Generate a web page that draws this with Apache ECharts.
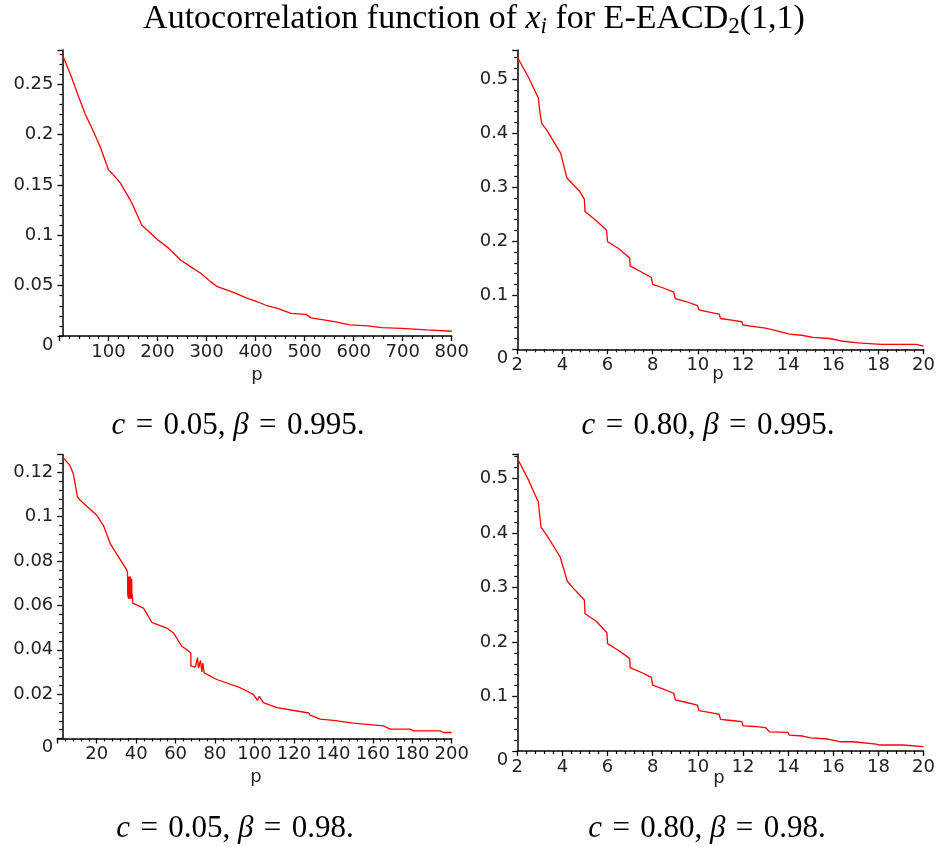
<!DOCTYPE html>
<html>
<head>
<meta charset="utf-8">
<script src="https://cdn.jsdelivr.net/npm/echarts@6/dist/echarts.min.js"></script>
<style>
html,body{margin:0;padding:0;background:#fff;}
#chart{width:938px;height:847px;}
</style>
</head>
<body>
<div id="chart"></div>
<script>
// ---- data ----
// Panel 1: c = 0.05, beta = 0.995
const p1X = [6, 21.5, 38.6, 52, 69.3, 83, 100, 110, 124, 144.5, 168, 182, 199, 223, 247, 267, 288, 308, 322, 356, 383.6, 404, 424.6, 445, 472, 503, 513, 561, 592, 629, 657, 697, 700, 749, 752, 800];
const p1Y = [0.279, 0.261, 0.238, 0.221, 0.203, 0.188, 0.165, 0.160, 0.152, 0.135, 0.110, 0.1037, 0.096, 0.087, 0.0755, 0.0689, 0.0623, 0.054, 0.049, 0.043, 0.0373, 0.034, 0.0298, 0.0275, 0.0225, 0.0215, 0.018, 0.0142, 0.011, 0.010, 0.0083, 0.0076, 0.0068, 0.0060, 0.0047, 0.0047];

// Panel 2: c = 0.80, beta = 0.995
const p2X = [2, 2.5, 2.93, 3.0, 3.08, 3.3, 3.92, 4.2, 4.77, 4.97, 5.0, 5.5, 5.95, 6.0, 6.47, 6.98, 7.0, 7.5, 7.94, 8.0, 8.5, 8.93, 9.0, 9.5, 9.98, 10.05, 10.5, 10.95, 11.0, 11.5, 11.95, 12.0, 12.5, 13.0, 13.5, 14.06, 14.6, 15.1, 15.83, 16.35, 17.09, 18.12, 19.67, 20];
const p2Y = [0.541, 0.503, 0.465, 0.44, 0.418, 0.406, 0.363, 0.317, 0.292, 0.278, 0.255, 0.238, 0.221, 0.199, 0.187, 0.169, 0.154, 0.143, 0.133, 0.120, 0.113, 0.106, 0.094, 0.088, 0.081, 0.073, 0.069, 0.065, 0.057, 0.054, 0.051, 0.045, 0.042, 0.039, 0.034, 0.028, 0.026, 0.022, 0.020, 0.0154, 0.012, 0.009, 0.009, 0.006];

// Panel 3: c = 0.05, beta = 0.98
const p3X = [2.6, 6.5, 8.2, 10.2, 11.5, 20, 23.4, 26.8, 30.2, 35.2, 35.6,
  35.75, 35.9, 36.05, 36.2, 36.35, 36.5, 36.65, 36.8, 36.95, 37.1, 37.25, 37.4, 37.55, 37.7, 37.85, 38.0,
  38.3, 43.7, 47.9, 55.5, 58.9, 63.1, 66.5, 67.7, 67.8, 70.0, 70.7, 71.1, 71.6, 72.1, 72.6, 73.0, 73.3, 73.8, 74.5, 75, 80.9, 92.7, 99.4, 101.5, 102.5, 104.5, 111.3, 121.5, 127.5, 128.2, 133.3, 140, 150.2, 157, 165.4, 168.8, 179, 180.6, 194, 195.9, 200];
const p3Y = [0.127, 0.123, 0.119, 0.109, 0.1075, 0.1007, 0.096, 0.088, 0.083, 0.076, 0.075,
  0.064, 0.073, 0.063, 0.073, 0.063, 0.073, 0.063, 0.072, 0.063, 0.073, 0.063, 0.072, 0.063, 0.072, 0.064, 0.065,
  0.061, 0.0588, 0.0524, 0.0498, 0.0476, 0.0416, 0.0395, 0.0386, 0.0326, 0.0322, 0.0319, 0.0364, 0.0318, 0.0311, 0.0352, 0.0349, 0.0300, 0.0340, 0.0296, 0.0296, 0.0266, 0.0229, 0.0199, 0.0172, 0.0190, 0.0162, 0.0139, 0.0124, 0.0115, 0.0105, 0.0087, 0.0082, 0.0069, 0.0064, 0.0057, 0.0042, 0.0042, 0.0034, 0.0034, 0.0027, 0.0027];

// Panel 4: c = 0.80, beta = 0.98
const p4X = [2, 2.5, 2.93, 3.05, 3.3, 3.9, 4.22, 4.5, 4.97, 5.0, 5.5, 5.97, 6.0, 6.47, 6.98, 7.0, 7.5, 7.94, 8.0, 8.5, 8.93, 9.0, 9.5, 9.98, 10.05, 10.5, 10.95, 11.0, 11.5, 11.95, 12.0, 12.5, 13.0, 13.18, 14.0, 14.05, 14.65, 15.0, 15.76, 16.28, 16.87, 16.94, 17.9, 18.05, 19.08, 19.1, 20];
const p4Y = [0.537, 0.497, 0.457, 0.411, 0.396, 0.356, 0.311, 0.298, 0.277, 0.252, 0.238, 0.217, 0.197, 0.185, 0.170, 0.153, 0.144, 0.135, 0.121, 0.113, 0.106, 0.094, 0.089, 0.084, 0.074, 0.071, 0.067, 0.058, 0.056, 0.054, 0.046, 0.045, 0.043, 0.035, 0.034, 0.029, 0.0275, 0.024, 0.022, 0.017, 0.017, 0.014, 0.0128, 0.011, 0.011, 0.008, 0.008];

const xTicks = {p1: {min: 0, max: 800, interval: 100}, p2: {min: 2, max: 20, interval: 2}, p3: {min: 0, max: 200, interval: 20}, p4: {min: 2, max: 20, interval: 2}};
const yTicks = {p1: {min: 0, max: 0.284, interval: 0.05}, p2: {min: 0, max: 0.554, interval: 0.1}, p3: {min: 0, max: 0.128, interval: 0.02}, p4: {min: 0, max: 0.545, interval: 0.1}};

const axisName = 'p';
const EQ = '\u2004=\u2004';
const captions = ['{i|c}' + EQ + '0.05, {i|β}' + EQ + '0.995.', '{i|c}' + EQ + '0.80, {i|β}' + EQ + '0.995.', '{i|c}' + EQ + '0.05, {i|β}' + EQ + '0.98.', '{i|c}' + EQ + '0.80, {i|β}' + EQ + '0.98.'];

// ---- chart ----
const FONT = 'DejaVu Sans';
const SERIF = 'Liberation Serif';
const LBL = 18;
const zip = (xs, ys) => xs.map((x, i) => [x, ys[i]]);

const grids = [
  {left: 59.5, top: 50, width: 392.2, height: 286},
  {left: 517.3, top: 50, width: 406.7, height: 299.3},
  {left: 57.3, top: 454.6, width: 394.4, height: 283.9},
  {left: 517.3, top: 454, width: 406.7, height: 297}
];
const keys = ['p1', 'p2', 'p3', 'p4'];
const yOffsets = [-3, 0, -5, 0];
const namePos = [[257, 375], [718, 374], [256, 777], [719, 778]];
const axisLine = {show: true, onZero: false, lineStyle: {color: '#000', width: 1.5}};

const xAxes = keys.map((k, i) => ({
  type: 'value', gridIndex: i,
  min: xTicks[k].min, max: xTicks[k].max, interval: xTicks[k].interval,
  axisLine: axisLine,
  axisTick: {show: true, length: 5, lineStyle: {color: '#000', width: 1.3}},
  minorTick: {show: true, splitNumber: 5, length: 3, lineStyle: {color: '#000', width: 1.2}},
  splitLine: {show: false},
  axisLabel: {fontFamily: FONT, fontSize: LBL, color: '#222', margin: 7, showMinLabel: (k === 'p2' || k === 'p4')}
}));

const yAxes = keys.map((k, i) => ({
  type: 'value', gridIndex: i, offset: yOffsets[i],
  min: yTicks[k].min, max: yTicks[k].max, interval: yTicks[k].interval,
  axisLine: axisLine,
  axisTick: {show: true, length: 5, lineStyle: {color: '#000', width: 1.3}},
  minorTick: {show: true, splitNumber: 5, length: 3, lineStyle: {color: '#000', width: 1.2}},
  splitLine: {show: false},
  axisLabel: {
    fontFamily: FONT, fontSize: LBL, color: '#222', margin: 9, showMaxLabel: false,
    formatter: v => v === 0 ? '{z|0}' : String(+v.toFixed(4)),
    rich: {z: {fontFamily: FONT, fontSize: LBL, color: '#222', padding: [18, 0, 0, 0]}}
  }
}));

const series = [zip(p1X, p1Y), zip(p2X, p2Y), zip(p3X, p3Y), zip(p4X, p4Y)].map((d, i) => ({
  type: 'line', xAxisIndex: i, yAxisIndex: i, data: d,
  showSymbol: false, symbol: 'none', smooth: false,
  lineStyle: {color: '#ff0000', width: 1.3}, animation: false
}));

const CAP = 31;
const capPos = [[238, 410], [708, 410], [235, 813], [707, 813]];
const capRich = {i: {fontFamily: SERIF, fontStyle: 'italic', fontSize: CAP, color: '#000'}};
const titles = [{
  text: 'Autocorrelation function of {i|x}{si|i} for E-EACD{s|2}(1,1)',
  left: 474, top: 1, textAlign: 'center', padding: 0,
  textStyle: {
    fontFamily: SERIF, fontSize: 34, fontWeight: 'normal', color: '#000',
    rich: {
      i: {fontFamily: SERIF, fontStyle: 'italic', fontSize: 34, color: '#000'},
      si: {fontFamily: SERIF, fontStyle: 'italic', fontSize: 23, color: '#000', padding: [14, 0, 0, 0]},
      s: {fontFamily: SERIF, fontSize: 23, color: '#000', padding: [14, 0, 0, 0]}
    }
  }
}].concat(captions.map((c, i) => ({
  text: c, left: capPos[i][0], top: capPos[i][1], textAlign: 'center', padding: 0,
  textStyle: {fontFamily: SERIF, fontSize: CAP, fontWeight: 'normal', color: '#000', rich: capRich}
})));

const graphics = namePos.map(pos => ({
  type: 'text', x: pos[0], y: pos[1], silent: true,
  style: {text: axisName, font: LBL + 'px "' + FONT + '"', fill: '#222', textAlign: 'center', textVerticalAlign: 'middle'}
}));

const chart = echarts.init(document.getElementById('chart'), null, {renderer: 'canvas'});
chart.setOption({
  animation: false,
  backgroundColor: '#fff',
  title: titles,
  grid: grids,
  xAxis: xAxes,
  yAxis: yAxes,
  series: series,
  graphic: graphics
});
</script>
</body>
</html>
